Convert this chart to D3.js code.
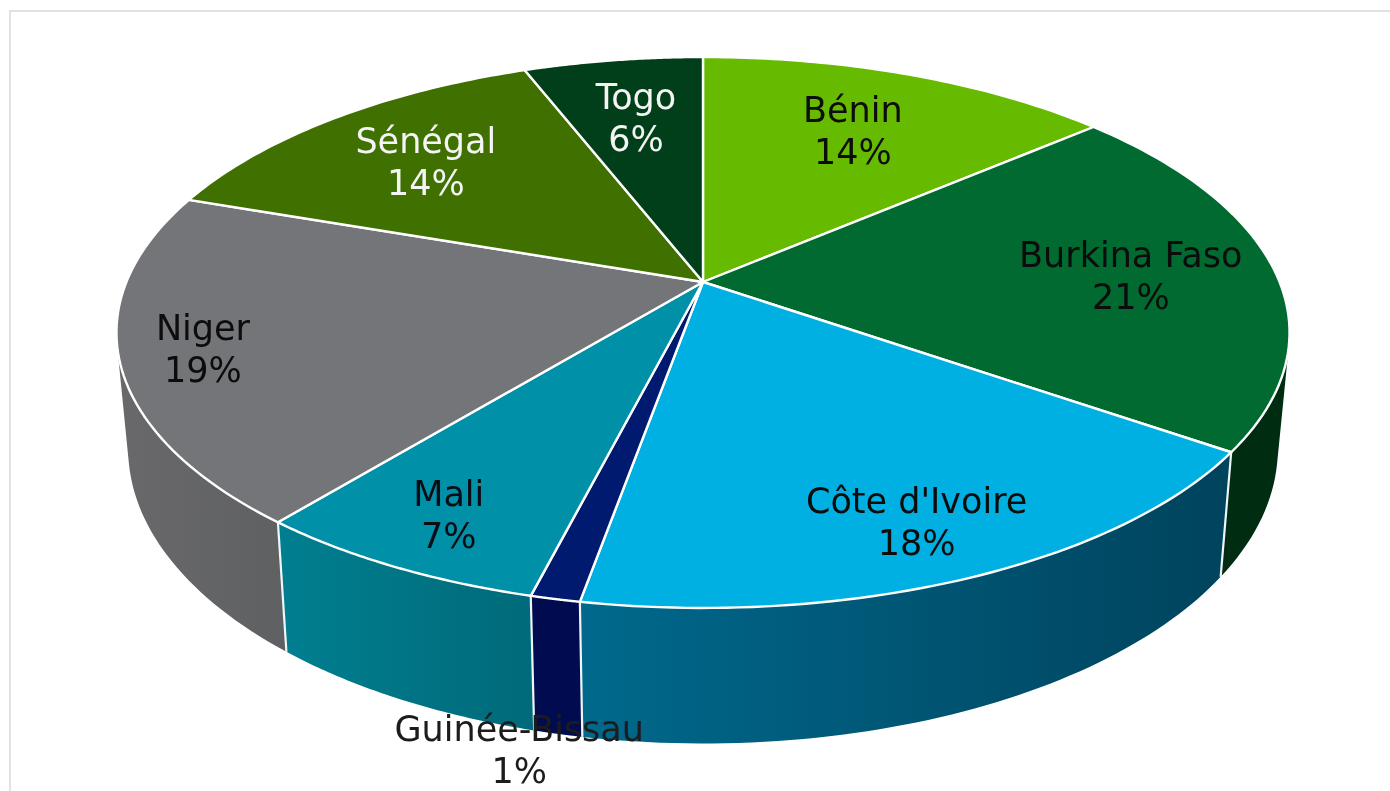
<!DOCTYPE html>
<html><head><meta charset="utf-8">
<script src="https://cdn.jsdelivr.net/npm/d3@7"></script>
<style>html,body{margin:0;padding:0;background:#fff;overflow:hidden}svg{display:block;filter:blur(.55px)}</style>
</head><body><svg id="c" width="1390" height="791"></svg>
<script>
const countries=["Bénin","Burkina Faso","Côte d'Ivoire","Guinée-Bissau","Mali","Niger","Sénégal","Togo"];
const shares=[13.7,21.0,18.1,1.15,6.95,19.4,13.8,5.9];
const topColors=["#66bb00","#006a30","#00b0e2","#001a70","#0090a8","#747579","#3f7000","#003f1a"];
const sideStart=["#3f7500","#002c12","#00698c","#000b50","#007f90","#69696c","#264500","#00240e"];
const sideEnd=["#3f7500","#002c12","#00435d","#000b50","#006a7a","#5f6062","#264500","#00240e"];
const textColors=["#0c0c0c","#0c0c0c","#0c0c0c","#1c1c1c","#0c0c14","#0c0c0c","#f4f4f4","#f4f4f4"];
// label anchors in the pie's own disc coordinates (u right, v toward viewer)
const labelDisc=[[.290,-.632],[.745,-.0226],[.318,.774],[-.241,1.33],[-.380,.754],[-.829,.2406],[-.524,-.491],[-.131,-.695]];

const W=1390,H=791,cx=703,cy=282,k=.1833,a=576.6,b=266.2;
const proj=(u,v)=>{const d=1-k*v;return [cx+a*u/d,cy+b*v/d];};
const rim=t=>proj(Math.sin(t),-Math.cos(t));
const drop=p=>[cx+(p[0]-cx)*.98,p[1]+129.5+.07*(p[1]-522)];
const svg=d3.select("#c");
const color=d3.scaleOrdinal(countries,topColors);
const arcs=d3.pie().sort(null).value((d,i)=>shares[i])(countries);
const samples=(s,e)=>d3.range(0,61).map(i=>s+(e-s)*i/60);
const line=d3.line();
// one wall is the union of extruded strips, so the silhouette follows the tangent edge
const wall=d=>{
  const t=samples(d.startAngle,d.endAngle).map(rim);
  return d3.pairs(t).map(([p,q])=>{
    const quad=[p,q,drop(q),drop(p)];
    if(d3.polygonArea(quad)<0) quad.reverse();
    return line(quad)+"Z";
  }).join("");
};

svg.append("rect").attr("x",10).attr("y",11).attr("width",W+20).attr("height",H+20)
  .attr("fill","#fff").attr("stroke","#e2e2e2").attr("stroke-width",2);

const defs=svg.append("defs");
arcs.forEach((d,i)=>{
  const g=defs.append("linearGradient").attr("id","g"+i).attr("x1",0).attr("x2",1).attr("y1",0).attr("y2",0);
  g.append("stop").attr("offset",0).attr("stop-color",sideStart[i]);
  g.append("stop").attr("offset",1).attr("stop-color",sideEnd[i]);
});

// side walls
svg.append("g").selectAll("path").data(arcs).join("path")
  .attr("d",wall)
  .attr("fill",(d,i)=>`url(#g${i})`);

// wall seams on the visible front
const seams=arcs.map(d=>d.endAngle).filter(t=>-Math.cos(t)>.2);
svg.append("g").selectAll("line").data(seams).join("line")
  .attr("x1",t=>rim(t)[0]).attr("y1",t=>rim(t)[1])
  .attr("x2",t=>drop(rim(t))[0]).attr("y2",t=>drop(rim(t))[1])
  .attr("stroke","#eef6f8").attr("stroke-width",2.2);

// top faces
svg.append("g").selectAll("path").data(arcs).join("path")
  .attr("d",d=>line([proj(0,0)].concat(samples(d.startAngle,d.endAngle).map(rim)))+"Z")
  .attr("fill",d=>color(d.data)).attr("stroke","#fff").attr("stroke-width",2.4).attr("stroke-linejoin","round");

// labels
const lab=svg.append("g").attr("font-family","'DejaVu Sans',sans-serif").attr("font-size",35).attr("text-anchor","middle");
arcs.forEach((d,i)=>{
  const p=proj(labelDisc[i][0],labelDisc[i][1]);
  const t=lab.append("text").attr("fill",textColors[i]);
  t.append("tspan").attr("x",p[0]).attr("y",p[1]-9).text(d.data);
  t.append("tspan").attr("x",p[0]).attr("y",p[1]+33).text(Math.round(shares[i])+"%");
});
</script></body></html>
